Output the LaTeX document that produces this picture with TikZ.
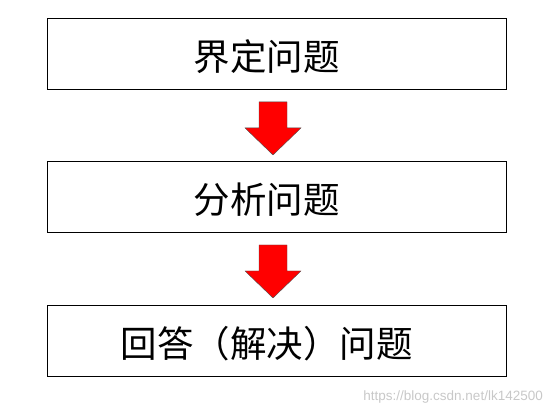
\documentclass[tikz,border=0pt]{standalone}
\usepackage{fontspec}
\newfontfamily\cjk{Noto Sans CJK SC}
\newfontfamily\wmfont{Liberation Sans}
\usetikzlibrary{positioning,calc}
\definecolor{arrowred}{RGB}{255,0,0}
\definecolor{wmgray}{RGB}{200,200,200}

\begin{document}
\begin{tikzpicture}[x=1pt, y=-1pt,
    box/.style={draw, line width=0.9pt, minimum width=459pt, minimum height=71pt, inner sep=0pt,
      text height=33.8pt, text depth=0pt, execute at end node={\hspace*{20pt}},
      font=\cjk\fontsize{36.5}{40}\selectfont},
    blockarrow/.style={fill=arrowred, draw=black!70, line width=0.4pt}
]
\useasboundingbox (0,0) rectangle (557,409);

% Steps
\node[box] (define) at (276.5, 54) {界定问题};
\node[box] (analyse) at (276.5, 197) {分析问题};
\node[box] (answer) at (276.5, 340.5) {回答（解决）问题};

% Block arrows
\foreach \a/\b in {define/analyse, analyse/answer} {
  \draw[blockarrow] ($(\a.south)+(-17.5,12)$) -- ($(\a.south)+(10.5,12)$)
    -- ($(\a.south)+(10.5,38)$) -- ($(\a.south)+(24.5,38)$)
    -- ($(\a.south)+(-3.5,65)$) -- ($(\a.south)+(-31.5,38)$)
    -- ($(\a.south)+(-17.5,38)$) -- cycle;
}

% Watermark
\node[font=\wmfont\fontsize{13.5}{15}\selectfont, text=wmgray, anchor=east, inner sep=0pt] (mark) at (543, 397) {https://blog.csdn.net/lk142500};

\end{tikzpicture}
\end{document}
